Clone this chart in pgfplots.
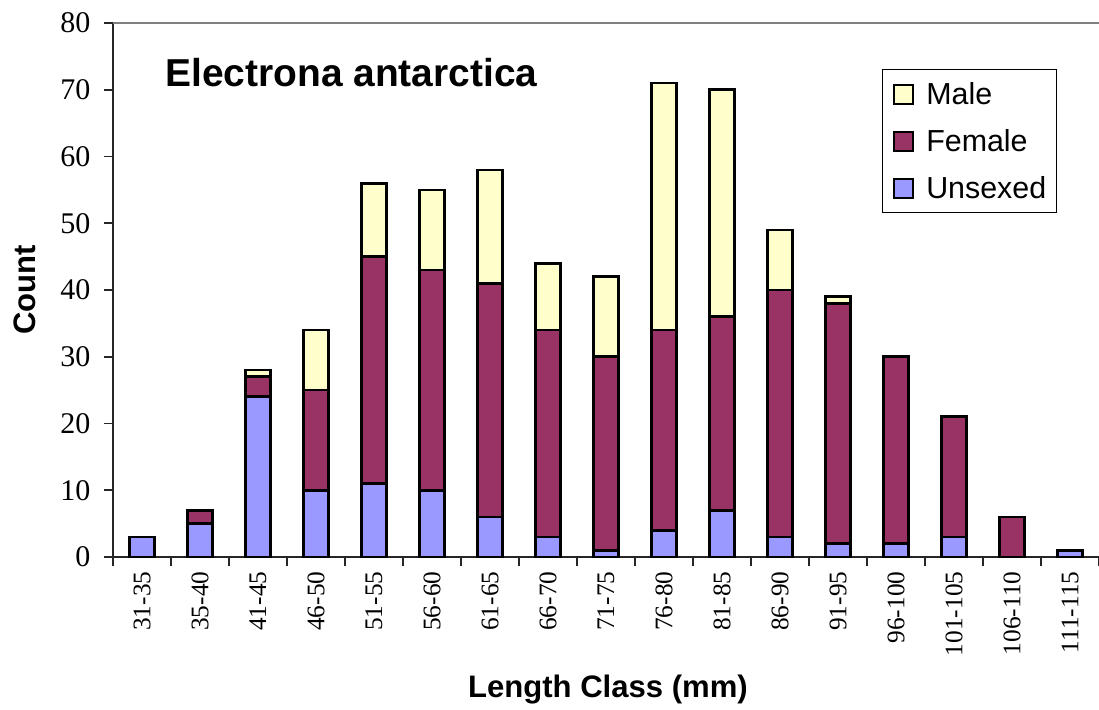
\documentclass[border=0pt]{standalone}
\usepackage{pgfplots}
\pgfplotsset{compat=1.18}
\usepackage{fontspec}
\setmainfont{Liberation Serif}
\newfontfamily\arial{Liberation Sans}
\definecolor{unsexed}{HTML}{9999FF}
\definecolor{female}{HTML}{993366}
\definecolor{male}{HTML}{FFFFCC}
\pgfplotsset{sq/.style={legend image code/.code={\draw[#1,line width=1.5pt] (0pt,-7.125pt) rectangle (14.25pt,7.125pt);}}}
\begin{document}
\begin{tikzpicture}
\path[use as bounding box] (0pt,0pt) rectangle (824.25pt,532.5pt);
\begin{axis}[
  at={(84.75pt,114.75pt)}, anchor=south west,
  scale only axis, width=739.5pt, height=400.5pt,
  ybar stacked, bar width=18.75pt,
  xmin=-0.5, xmax=16.5, ymin=0, ymax=80,
  ytick={0,10,...,80},
  xtick={-0.5,0.5,...,16.5},
  x tick label as interval,
  xticklabels={31-35,35-40,41-45,46-50,51-55,56-60,61-65,66-70,71-75,76-80,81-85,86-90,91-95,96-100,101-105,106-110,111-115},
  axis x line*=bottom, axis y line*=left,
  axis line style={line width=1.2pt, black!85},
  tick align=outside, major tick length=6.75pt,
  tick style={line width=1.2pt, black!85},
  /pgf/number format/assume math mode=true,
  tick label style={text=black},
  xticklabel style={rotate=90, anchor=east, inner sep=4pt, font=\fontsize{19}{23}\selectfont},
  yticklabel style={inner xsep=10pt, font=\fontsize{22.5}{26}\selectfont},
  xlabel={Length Class (mm)},
  ylabel={Count},
  label style={font=\arial\bfseries\fontsize{23.3}{28}\selectfont},
  xlabel style={at={(axis description cs:0.502,-0.249)}, anchor=center},
  ylabel style={at={(axis description cs:-0.0892,0.5)}, anchor=center},
  legend style={at={(axis description cs:0.780,0.914)}, anchor=north west,
    draw=black, line width=0.8pt, fill=white,
    font=\arial\fontsize{22.8}{27}\selectfont,
    inner xsep=8pt, inner ysep=4.5pt, row sep=7.25pt, column sep=9pt,
    nodes={anchor=west, inner xsep=0pt, inner ysep=3pt, text height=19pt, text depth=3pt}},
  reverse legend,
  clip=false,
]
\addplot[fill=unsexed, draw=black, line width=2pt, sq] coordinates {
(0,3) (1,5) (2,24) (3,10) (4,11) (5,10) (6,6) (7,3) (8,1) (9,4) (10,7) (11,3) (12,2) (13,2) (14,3) (15,0) (16,1)};
\addplot[fill=female, draw=black, line width=2pt, sq] coordinates {
(0,0) (1,2) (2,3) (3,15) (4,34) (5,33) (6,35) (7,31) (8,29) (9,30) (10,29) (11,37) (12,36) (13,28) (14,18) (15,6) (16,0)};
\addplot[fill=male, draw=black, line width=2pt, sq] coordinates {
(0,0) (1,0) (2,1) (3,9) (4,11) (5,12) (6,17) (7,10) (8,12) (9,37) (10,34) (11,9) (12,1) (13,0) (14,0) (15,0) (16,0)};
\legend{Unsexed,Female,Male}
\draw[gray, line width=1.2pt] (axis description cs:0,1) -- (axis description cs:1,1);
\node[anchor=west, inner sep=0pt, font=\arial\bfseries\fontsize{29.2}{35}\selectfont] at (axis description cs:0.0527,0.908) {Electrona antarctica};
\end{axis}
\end{tikzpicture}
\end{document}
